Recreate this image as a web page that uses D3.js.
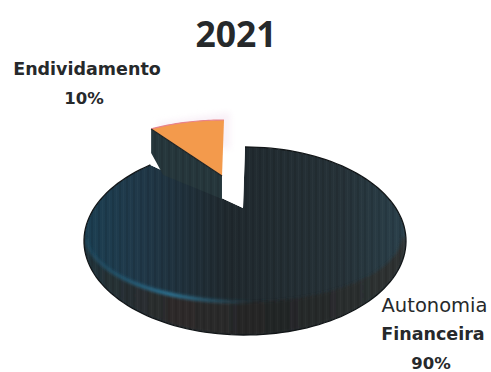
<!DOCTYPE html>
<html>
<head>
<meta charset="utf-8">
<script src="https://cdn.jsdelivr.net/npm/d3@7"></script>
<style>
html,body{margin:0;padding:0;background:#fff}
svg{display:block}
text{font-family:"DejaVu Sans",sans-serif;fill:#26292b;text-anchor:middle}
</style>
</head>
<body>
<svg id="chart" width="491" height="372"></svg>
<script>
// Capital structure, 2021
const chartTitle = "2021";
const categories = ["Autonomia Financeira", "Endividamento"];
const shares = [90, 10];

const svg = d3.select("#chart");
const defs = svg.append("defs");

// Tilted pie: an angle on the disc maps to a point on an ellipse
const body = {cx: 245, cy: 241, rx: 161, ry: 94};   // outer silhouette
const face = {cx: 244, cy: 235, rx: 158, ry: 67};   // front edge of the top face
const chip = {cx: 224, cy: 167, rx: 124, ry: 47};   // pulled-out slice

const pieLayout = d3.pie().sort(null).value(d => d.share);
const slices = pieLayout(categories.map((name, i) => ({name, share: shares[i]})));
const [mainSlice, debtSlice] = slices;

const rim = (a, d) => [d.cx + d.rx * Math.sin(a), d.cy - d.ry * Math.cos(a)];
const rimPoints = (a0, a1, d, n = 140) =>
  d3.range(n + 1).map(i => rim(a0 + (a1 - a0) * i / n, d));
const line = d3.line();
const TAU = 2 * Math.PI;

// Shading gradients and surface texture
const topGrad = defs.append("linearGradient").attr("id", "topFace");
[[0, "#1c3f52"], [0.16, "#20394a"], [0.45, "#20292e"], [0.8, "#263238"], [1, "#2b414c"]]
  .forEach(([o, c]) => topGrad.append("stop").attr("offset", o).attr("stop-color", c));
const sideGrad = defs.append("linearGradient").attr("id", "sideFace");
[[0, "#22323a"], [0.3, "#2e2b2a"], [0.6, "#232627"], [1, "#303434"]]
  .forEach(([o, c]) => sideGrad.append("stop").attr("offset", o).attr("stop-color", c));
const glowGrad = defs.append("linearGradient").attr("id", "rimGlow")
  .attr("gradientUnits", "userSpaceOnUse")
  .attr("x1", face.cx - face.rx).attr("x2", face.cx + 10).attr("y1", 0).attr("y2", 0);
[[0, "#1d5570", 0.5], [0.5, "#2b7698", 1], [1, "#2b7698", 0]]
  .forEach(([o, c, a]) => glowGrad.append("stop").attr("offset", o).attr("stop-color", c).attr("stop-opacity", a));
defs.append("filter").attr("id", "soft").append("feGaussianBlur").attr("stdDeviation", 1.4);
defs.append("filter").attr("id", "halo").append("feGaussianBlur").attr("stdDeviation", 3);
const stripes = defs.append("pattern").attr("id", "stripes")
  .attr("patternUnits", "userSpaceOnUse").attr("width", 7).attr("height", 40);
stripes.append("rect").attr("width", 2).attr("height", 40).attr("fill", "#000").attr("opacity", 0.09);
stripes.append("rect").attr("x", 4).attr("width", 1).attr("height", 40).attr("fill", "#fff").attr("opacity", 0.025);

// Main piece: silhouette with the wedge cut out
const apex = [243, 208];
const mainShape = [apex, ...rimPoints(mainSlice.startAngle, mainSlice.endAngle, body)];
const clip = defs.append("clipPath").attr("id", "mainClip");
clip.append("path").attr("d", line(mainShape) + "Z");

const mainGroup = svg.append("g").attr("clip-path", "url(#mainClip)");
mainGroup.append("path").attr("d", line(mainShape) + "Z").attr("fill", "url(#topFace)");

// Body wall below the front edge of the top face
const wall = [
  ...rimPoints(TAU * 0.75, TAU * 0.25, face),
  ...rimPoints(TAU * 0.25, TAU * 0.75, body)
];
mainGroup.append("path").attr("d", line(wall) + "Z")
  .attr("fill", "url(#sideFace)").attr("filter", "url(#soft)");
mainGroup.append("path").attr("d", line(mainShape) + "Z").attr("fill", "url(#stripes)");

// Lit edge along the front-left of the top face
mainGroup.append("path")
  .attr("d", line(rimPoints(TAU * 0.74, TAU * 0.49, face)))
  .attr("fill", "none").attr("stroke", "url(#rimGlow)").attr("stroke-width", 3.6)
  .attr("filter", "url(#soft)");

// Dark outline of the main piece, open along the cut
svg.append("path").attr("d", line(mainShape.slice(1))).attr("fill", "none")
  .attr("stroke", "#121618").attr("stroke-width", 1.3);

// Pulled-out slice
const chipArc = rimPoints(debtSlice.startAngle, debtSlice.endAngle, chip, 30);
const leftTip = chipArc[0];
const rightTip = chipArc[chipArc.length - 1];
const chipApex = [rightTip[0] - 2, 176];

// Pale halo just above the slice
svg.append("path")
  .attr("d", line([[leftTip[0] + 6, leftTip[1] - 6], [rightTip[0] + 6, rightTip[1] - 8], [rightTip[0] + 6, rightTip[1] + 30], [leftTip[0] + 6, leftTip[1]]]) + "Z")
  .attr("fill", "#f3e2f0").attr("opacity", 0.5).attr("filter", "url(#halo)");

// Cut face of the slice, running down into the main piece
const cutWall = [
  leftTip,
  chipApex,
  [chipApex[0], 199],
  [leftTip[0] + 12, leftTip[1] + 46],
  [leftTip[0] + 5, leftTip[1] + 33],
  [leftTip[0], leftTip[1] + 24]
];
svg.append("path").attr("d", line(cutWall) + "Z").attr("fill", "#26373c");
svg.append("path").attr("d", line(cutWall) + "Z").attr("fill", "url(#stripes)");

// Orange top of the slice
svg.append("path").attr("d", line([chipApex, ...chipArc]) + "Z").attr("fill", "#f39a4c");
svg.append("path").attr("d", line(chipArc)).attr("fill", "none")
  .attr("stroke", "#e8838a").attr("stroke-width", 1.2);
svg.append("path").attr("d", line([leftTip, chipApex])).attr("fill", "none")
  .attr("stroke", "#1c2225").attr("stroke-width", 1.2);

// Title and value labels
svg.append("text").attr("x", 236).attr("y", 47)
  .attr("font-size", 35.5).attr("font-weight", 700)
  .style("font-family", '"Open Sans",sans-serif').text(chartTitle);

const debtLabel = svg.append("text").attr("font-size", 17.5).attr("font-weight", 700);
debtLabel.append("tspan").attr("x", 87).attr("y", 75).text(categories[1]);
debtLabel.append("tspan").attr("x", 84).attr("y", 104).attr("font-size", 16.5).text(shares[1] + "%");

const [firstWord, secondWord] = categories[0].split(" ");
const mainLabel = svg.append("text").attr("font-size", 17.5).attr("font-weight", 700);
mainLabel.append("tspan").attr("x", 434.5).attr("y", 312).attr("font-size", 19.5).attr("font-weight", 400).text(firstWord);
mainLabel.append("tspan").attr("x", 433).attr("y", 340).text(secondWord);
mainLabel.append("tspan").attr("x", 431).attr("y", 369).attr("font-size", 16.5).text(shares[0] + "%");
</script>
</body>
</html>
